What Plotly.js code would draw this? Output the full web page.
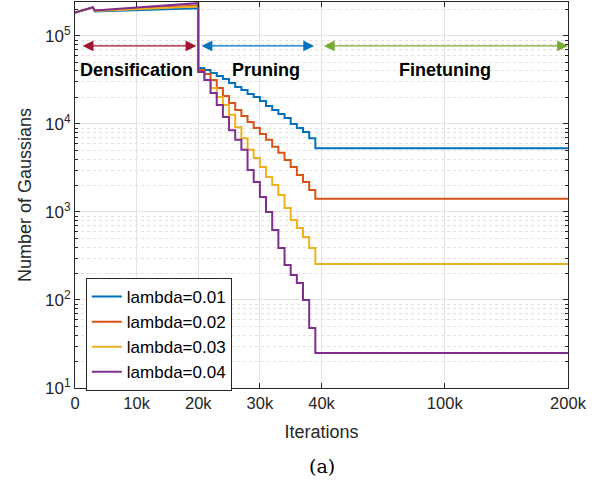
<!DOCTYPE html>
<html>
<head>
<meta charset="utf-8">
<script src="https://cdn.plot.ly/plotly-3.0.1.min.js"></script>
<style>html,body{margin:0;padding:0;background:#fff;}#chart{width:605px;height:486px;}</style>
</head>
<body>
<div id="chart"></div>
<script>
// ---- Data ----
const seriesNames = ["lambda=0.01", "lambda=0.02", "lambda=0.03", "lambda=0.04"];
const densIters = [0, 2900, 3200, 20000];
const densBlue   = [184000, 210000, 190000, 207000];
const densRed    = [184000, 210000, 193000, 222000];
const densYellow = [184000, 210000, 192000, 216000];
const densPurple = [184000, 212000, 195000, 236000];

const pruneIters = [20000, 21000, 22000, 23000, 24000, 25000, 26000, 27000, 28000, 29000,
                    30000, 31000, 32000, 33000, 34000, 35000, 36000, 37000, 38000, 39000];
const pruneBlue   = [43300, 41100, 38000, 35100, 32500, 29200, 26300, 24300, 21900, 20300,
                     18200, 16000, 14400, 13000, 11700, 10000, 9000, 8100, 6900, 5300];
const pruneRed    = [41100, 37000, 31600, 25600, 20800, 17300, 14400, 12300, 10500, 9000,
                     7700, 6600, 5500, 4700, 3900, 3250, 2630, 2190, 1780, 1410];
const pruneYellow = [39000, 31600, 25600, 20300, 16400, 12700, 9200, 6900, 5100, 4100,
                     3250, 2500, 2030, 1560, 1110, 811, 658, 520, 390, 256];
const prunePurple = [39000, 31600, 22500, 16400, 12000, 8500, 6600, 5100, 3000, 2190,
                     1480, 1000, 624, 390, 250, 192, 156, 100, 48, 25];
const endIter = 200000;

const xTickVals = [0, 10000, 20000, 30000, 40000, 100000, 200000];
const xTickText = ["0", "10k", "20k", "30k", "40k", "100k", "200k"];
const yTickVals = [10, 100, 1000, 10000, 100000];
const yTickText = ["10<sup>1</sup>", "10<sup>2</sup>", "10<sup>3</sup>", "10<sup>4</sup>", "10<sup>5</sup>"];
const colors = ["#0072BD", "#D95319", "#EDB120", "#7E2F8E"];

// piecewise axis mapping used by the original figure
function toAxis(it) {
  if (it <= 40000) return it / 10000;
  if (it <= 100000) return 4 + (it - 40000) / 60000 * 2;
  return 6 + (it - 100000) / 100000 * 2;
}

function buildSeries(dens, prune) {
  const xs = [], ys = [];
  for (let i = 0; i < densIters.length; i++) { xs.push(toAxis(densIters[i])); ys.push(dens[i]); }
  let prev = dens[dens.length - 1];
  for (let i = 0; i < pruneIters.length; i++) {
    xs.push(toAxis(pruneIters[i])); ys.push(prev);
    xs.push(toAxis(pruneIters[i])); ys.push(prune[i]);
    prev = prune[i];
  }
  xs.push(toAxis(endIter)); ys.push(prev);
  return {xs, ys};
}

const dens = [densBlue, densRed, densYellow, densPurple];
const prune = [pruneBlue, pruneRed, pruneYellow, prunePurple];
const traces = seriesNames.map((n, i) => {
  const s = buildSeries(dens[i], prune[i]);
  return {x: s.xs, y: s.ys, type: "scatter", mode: "lines", name: n,
          line: {color: colors[i], width: 2}};
});

const minorVals = [];
for (let e = 1; e <= 5; e++) for (let d = 2; d <= 9; d++) minorVals.push(d * Math.pow(10, e));

const font = "Liberation Sans, Arial, sans-serif";
const axColor = "#262626";
const arrowY = Math.log10(77000);
const textY = Math.log10(41000);

function arrow(x0, x1, color) {
  return {x: toAxis(x1), y: arrowY, ax: toAxis(x0), ay: arrowY, xref: "x", yref: "y",
          axref: "x", ayref: "y", text: "", showarrow: true, arrowhead: 2, arrowside: "end+start",
          arrowsize: 1.8, arrowwidth: 1.2, arrowcolor: color};
}
function label(txt, x) {
  return {x: toAxis(x), y: textY, xref: "x", yref: "y", text: "<b>" + txt + "</b>", showarrow: false,
          font: {family: font, size: 18, color: "#000"}};
}

const layout = {
  width: 605, height: 486,
  margin: {l: 75, r: 37, t: 2, b: 98},
  paper_bgcolor: "#fff", plot_bgcolor: "#fff",
  showlegend: true,
  legend: {x: 0.022, y: 0.285, xanchor: "left", yanchor: "top", bgcolor: "#fff",
           bordercolor: axColor, borderwidth: 1, font: {family: font, size: 17, color: "#000"},
           tracegroupgap: 0},
  xaxis: {range: [0, 8], tickmode: "array", tickvals: xTickVals.map(toAxis), ticktext: xTickText,
          ticks: "inside", ticklen: 5, tickcolor: axColor, showline: true, linecolor: axColor,
          mirror: "ticks", showgrid: true, gridcolor: "#e3e3e3", zeroline: false,
          tickfont: {family: font, size: 16.5, color: axColor},
          title: {text: "Iterations", font: {family: font, size: 18, color: axColor}, standoff: 14}},
  yaxis: {type: "log", range: [1, 5.386], tickmode: "array", tickvals: yTickVals, ticktext: yTickText,
          ticks: "inside", ticklen: 5, tickcolor: axColor, showline: true, linecolor: axColor,
          mirror: "ticks", showgrid: true, gridcolor: "#e3e3e3", zeroline: false,
          tickfont: {family: font, size: 17, color: axColor},
          minor: {tickmode: "array", tickvals: minorVals, ticks: "inside", ticklen: 3, tickcolor: axColor,
                  showgrid: true, gridcolor: "#e2e2e2", griddash: "dot", gridwidth: 1},
          title: {text: "Number of Gaussians", font: {family: font, size: 18, color: axColor}, standoff: 8}},
  annotations: [
    arrow(1000, 19700, "#A2142F"),
    arrow(20300, 38800, "#0072BD"),
    arrow(40400, 200000, "#77AC30"),
    label("Densification", 10000),
    label("Pruning", 31000),
    label("Finetuning", 100000),
    {x: 0.5, y: -0.202, xref: "paper", yref: "paper", text: "(a)", showarrow: false,
     yanchor: "middle", font: {family: "DejaVu Serif, Liberation Serif, serif", size: 19, color: "#000"}}
  ]
};

Plotly.newPlot("chart", traces, layout, {displayModeBar: false, staticPlot: true});
</script>
</body>
</html>
